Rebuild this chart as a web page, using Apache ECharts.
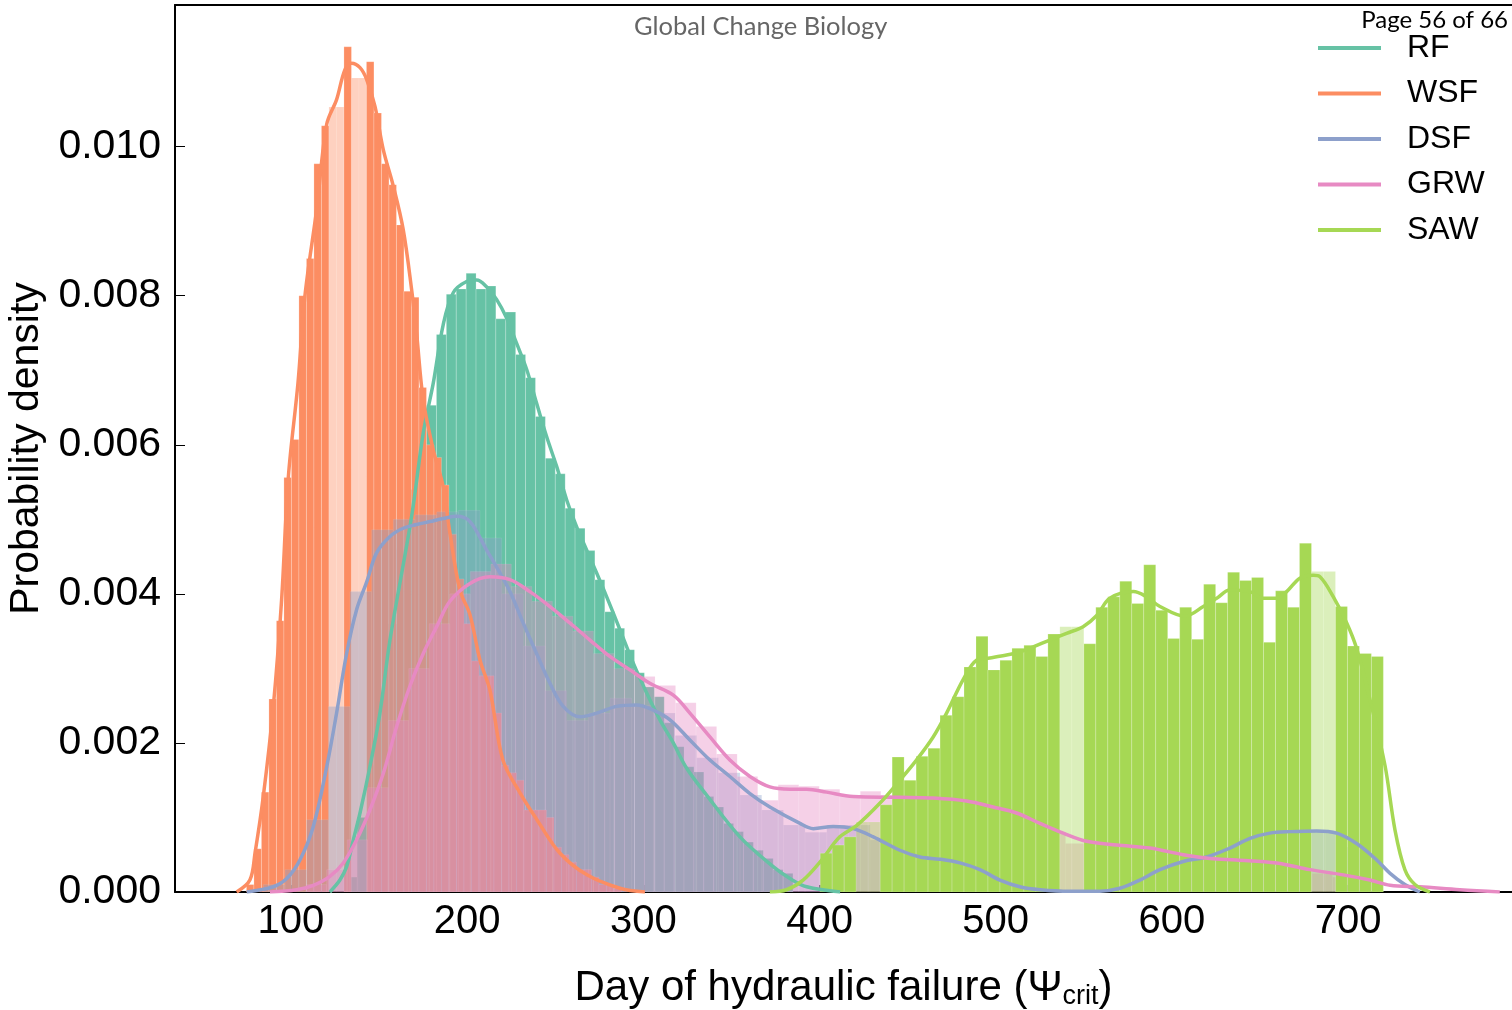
<!DOCTYPE html>
<html>
<head>
<meta charset="utf-8">
<script src="https://cdn.jsdelivr.net/npm/echarts@6/dist/echarts.min.js"></script>
<style>
  html, body { margin: 0; padding: 0; background: #fff; }
  #container { width: 1512px; height: 1010px; }
</style>
</head>
<body>
<div id="container"></div>
<script>
var names = ['RF', 'WSF', 'DSF', 'GRW', 'SAW'];
var colors = ['#66c2a5', '#fc8d62', '#8da0cb', '#e78ac3', '#a6d854'];
var xTicks = [100, 200, 300, 400, 500, 600, 700];
var yTicks = [0, 0.002, 0.004, 0.006, 0.008, 0.010];

// histogram bins: first edge, bin width, density per bin
var rfStart = 132.0, rfWidth = 5.62;
var rfHeights = [0.0002, 0.001, 0.0017, 0.0026, 0.0036, 0.0046, 0.0054, 0.0062,
  0.00653, 0.00748, 0.00802, 0.00809, 0.0083, 0.00809, 0.00813, 0.00769, 0.00778,
  0.00721, 0.0069, 0.00638, 0.00582, 0.00561, 0.00515, 0.00488, 0.00458, 0.00419,
  0.00376, 0.00354, 0.00325, 0.00294, 0.00275, 0.00262, 0.00227, 0.00195, 0.00168,
  0.00161, 0.00128, 0.00114, 0.00092, 0.00081, 0.00067, 0.00056, 0.00045, 0.0003, 0.00025];
var rfPale = [];

var wsfStart = 74.74, wsfWidth = 4.257;
var wsfHeights = [0.0001, 0.00058, 0.00134, 0.00259, 0.00364, 0.00556, 0.00607, 0.0080,
  0.0085, 0.00977, 0.01028, 0.01053, 0.01053, 0.01134, 0.01092, 0.01092, 0.01114,
  0.01045, 0.00977, 0.00949, 0.00895, 0.00806, 0.00798, 0.00677, 0.0060, 0.00583,
  0.00546, 0.0048, 0.0042, 0.0036, 0.0031, 0.0029, 0.0029, 0.0024, 0.0017, 0.0016,
  0.0015, 0.0011, 0.0011, 0.0011, 0.001, 0.0006, 0.0005, 0.0004, 0.0003, 0.0003,
  0.0002, 0.0001, 0.0001, 0.00005];
var wsfPale = [11, 12, 14, 15];

var dsfStart = 84.3, dsfWidth = 12.3;
var dsfHeights = [0.0001, 0.0003, 0.00097, 0.00249, 0.00403, 0.00486, 0.005, 0.00506,
  0.0051, 0.00512, 0.00475, 0.0040, 0.0033, 0.0027, 0.0023, 0.0024, 0.0026, 0.0025,
  0.0024, 0.0021, 0.0018, 0.0016, 0.0013, 0.0011, 0.0009, 0.0008, 0.0009, 0.0009,
  0.0007, 0.0006, 0.0005, 0.00045, 0.0004, 0.0003, 0.00015, 0.00005, 0.00002, 0,
  0.00002, 0.00008, 0.0002, 0.0003, 0.0004, 0.00048, 0.0006, 0.00072, 0.0008,
  0.00082, 0.00082, 0.0008, 0.0006];
var dsfPale = [];

var grwStart = 108.6, grwWidth = 11.65;
var grwHeights = [0.0001, 0.0003, 0.0007, 0.0014, 0.0023, 0.0030, 0.0036, 0.0040,
  0.0043, 0.0044, 0.0041, 0.0039, 0.0037, 0.0035, 0.0032, 0.0030, 0.00289, 0.00277,
  0.00254, 0.00222, 0.00185, 0.00155, 0.00123, 0.00144, 0.00142, 0.00138, 0.0013,
  0.00135, 0.0013, 0.0012, 0.0013, 0.0012, 0.0012, 0.0011, 0.0011, 0.0009, 0.0008,
  0.00065, 0.0006, 0.0006, 0.0006, 0.0005, 0.0005, 0.00045, 0.00045, 0.0004, 0.0004,
  0.00035, 0.0003, 0.00025, 0.0002, 0.00015];
var grwPale = [];

var sawStart = 400.4, sawWidth = 6.8;
var sawHeights = [0.00052, 0.00063, 0.00074, 0.00094, 0.00094, 0.00117, 0.00181, 0.0015,
  0.00182, 0.00193, 0.00237, 0.00262, 0.00302, 0.00343, 0.00298, 0.00311, 0.00327,
  0.00331, 0.00316, 0.00346, 0.00356, 0.00356, 0.00333, 0.00382, 0.00396, 0.00417,
  0.00387, 0.00439, 0.00378, 0.0034, 0.00382, 0.00339, 0.00413, 0.00388, 0.00429,
  0.00418, 0.00422, 0.00335, 0.00404, 0.00382, 0.00468, 0.0043, 0.0043, 0.00383,
  0.0033, 0.0032, 0.00316];
var sawPale = [3, 4, 20, 21, 41, 42];

// kernel density curves [day, density]
var rfKde = [[122.1, 0], [127.8, 0.00016], [131.6, 0.00034], [135.4, 0.0007], [139.2, 0.00106],
  [144.8, 0.00168], [150.5, 0.0024], [156.2, 0.00338], [168.5, 0.00504], [175.1, 0.00616],
  [180.8, 0.00683], [186.4, 0.00761], [192.1, 0.00804], [199.7, 0.00819], [205.4, 0.00821],
  [211.0, 0.00812], [216.7, 0.00795], [222.4, 0.0077], [228.1, 0.00736], [233.8, 0.00701],
  [239.4, 0.00656], [245.1, 0.00611], [250.8, 0.00571], [256.5, 0.00526], [262.1, 0.0049],
  [267.8, 0.00459], [273.5, 0.00428], [279.2, 0.00396], [286.7, 0.00352], [294.3, 0.00307],
  [301.9, 0.00267], [309.4, 0.00231], [317.0, 0.002], [324.6, 0.00166], [335.9, 0.0013],
  [354.8, 0.00074], [373.7, 0.00034], [383.2, 0.00018], [392.7, 0.00007], [411.7, 0]];

var wsfKde = [[69.2, 0], [76.7, 0.00016], [79.6, 0.00052], [84.3, 0.00128], [90.0, 0.00249],
  [94.7, 0.00392], [98.5, 0.00556], [104.0, 0.00683], [107.9, 0.00799], [114.6, 0.00916],
  [120.3, 0.0103], [125.9, 0.01063], [130.6, 0.01103], [134.4, 0.01112], [139.2, 0.01106],
  [143.0, 0.0109], [147.7, 0.01054], [152.4, 0.00996], [158.1, 0.00947], [163.7, 0.00889],
  [168.5, 0.00808], [171.3, 0.0075], [175.1, 0.0066], [180.8, 0.00593], [186.4, 0.00544],
  [190.2, 0.00482], [195.9, 0.00405], [201.6, 0.00372], [207.3, 0.00311], [212.9, 0.00271],
  [220.3, 0.00177], [230.0, 0.00133], [239.6, 0.00097], [252.7, 0.00052], [268.0, 0.00023],
  [286.7, 0.00005], [300.9, 0]];

var dsfKde = [[74.9, 0], [90.0, 0.00007], [97.6, 0.00018], [105.1, 0.00043], [112.7, 0.00088],
  [120.3, 0.00168], [125.9, 0.0024], [131.6, 0.0032], [137.3, 0.00379], [143.0, 0.00416],
  [148.6, 0.00455], [156.2, 0.00477], [163.7, 0.00488], [171.3, 0.00493], [178.9, 0.00497],
  [186.4, 0.00501], [194.0, 0.00504], [201.6, 0.00497], [211.0, 0.00459], [218.6, 0.00428],
  [224.3, 0.00403], [231.8, 0.00361], [239.4, 0.0032], [247.0, 0.0028], [254.5, 0.00249],
  [264.0, 0.00235], [273.5, 0.0024], [284.8, 0.00249], [296.2, 0.00251], [305.6, 0.00244],
  [315.1, 0.00231], [326.4, 0.00204], [337.8, 0.00177], [349.1, 0.00155], [360.5, 0.00132],
  [371.8, 0.00114], [388.9, 0.00092], [396.4, 0.00085], [407.8, 0.00088], [419.1, 0.00085],
  [430.5, 0.00074], [445.6, 0.00056], [457.0, 0.00047], [468.3, 0.00044], [479.7, 0.00039],
  [491.0, 0.0003], [502.4, 0.00016], [513.7, 0.00007], [525.1, 0.00003], [542.1, 0.00001],
  [559.1, 0.00001], [570.5, 0.00005], [581.8, 0.00016], [593.2, 0.0003], [606.4, 0.00041],
  [619.7, 0.00047], [632.9, 0.00059], [644.3, 0.00072], [655.6, 0.00079], [667.0, 0.00081],
  [682.1, 0.00082], [693.5, 0.00079], [704.8, 0.00065], [716.2, 0.00043], [723.8, 0.00025],
  [732.2, 0.0001], [740.7, 0]];

var grwKde = [[88.1, 0], [103.2, 0.00003], [112.7, 0.00009], [122.1, 0.00021], [129.7, 0.00039],
  [137.3, 0.0007], [144.8, 0.0011], [152.4, 0.00159], [160.0, 0.00222], [167.5, 0.00276],
  [175.1, 0.0032], [182.7, 0.00356], [190.2, 0.0039], [201.6, 0.00414], [212.9, 0.00423],
  [224.3, 0.00419], [235.6, 0.00403], [247.0, 0.00383], [258.3, 0.00361], [269.7, 0.00338],
  [281.0, 0.00316], [292.4, 0.00298], [303.7, 0.0028], [317.0, 0.00264], [326.4, 0.0024],
  [337.8, 0.00208], [349.1, 0.00177], [360.5, 0.00155], [371.8, 0.00141], [383.2, 0.00138],
  [392.7, 0.00138], [404.0, 0.00134], [419.1, 0.00128], [445.6, 0.00127], [464.5, 0.00126],
  [483.4, 0.00122], [498.5, 0.00114], [511.8, 0.00106], [525.1, 0.00092], [538.3, 0.00079],
  [551.6, 0.00068], [568.6, 0.00063], [587.5, 0.00059], [606.4, 0.0005], [621.6, 0.00045],
  [636.7, 0.00043], [659.4, 0.00039], [678.3, 0.0003], [697.2, 0.00023], [712.4, 0.00016],
  [723.8, 0.00009], [740.7, 0.00007], [763.4, 0.00003], [786.1, 0]];

var sawKde = [[371.8, 0], [381.3, 0.00003], [390.7, 0.00016], [400.2, 0.0004], [411.5, 0.00074],
  [421.0, 0.00089], [434.2, 0.00119], [445.6, 0.0015], [455.0, 0.00177], [464.5, 0.00208],
  [472.1, 0.0024], [481.5, 0.00285], [489.1, 0.00311], [496.7, 0.00314], [506.2, 0.00318],
  [513.7, 0.00322], [521.3, 0.00329], [530.7, 0.00338], [540.2, 0.00347], [549.6, 0.00356],
  [557.3, 0.00371], [564.8, 0.00394], [578.1, 0.00403], [585.6, 0.00396], [593.2, 0.00383],
  [607.4, 0.0037], [617.8, 0.00383], [625.4, 0.00394], [632.9, 0.00405], [644.3, 0.00403],
  [651.8, 0.00394], [659.4, 0.00394], [665.1, 0.00403], [672.6, 0.00421], [680.2, 0.00425],
  [684.0, 0.00423], [691.6, 0.00396], [699.2, 0.00361], [704.8, 0.00327], [712.4, 0.00258],
  [720.9, 0.0017], [726.6, 0.00083], [732.2, 0.0003], [737.9, 0.0001], [746.4, 0]];

var hists = [
  [rfStart, rfWidth, rfHeights, rfPale],
  [wsfStart, wsfWidth, wsfHeights, wsfPale],
  [dsfStart, dsfWidth, dsfHeights, dsfPale],
  [grwStart, grwWidth, grwHeights, grwPale],
  [sawStart, sawWidth, sawHeights, sawPale]
];
var kdes = [rfKde, wsfKde, dsfKde, grwKde, sawKde];
var barAlpha = [1, 1, 0.4, 0.4, 1];

var dom = document.getElementById('container');
var myChart = echarts.init(dom);

function binData(h) {
  return h[2].map(function(v, i) {
    var x0 = h[0] + i * h[1];
    return [x0, x0 + h[1], v, h[3].indexOf(i) >= 0 ? 1 : 0];
  });
}

function histSeries(idx) {
  return {
    type: 'custom',
    name: names[idx],
    clip: true,
    z: 1,
    silent: true,
    encode: { x: [0, 1], y: 2 },
    data: binData(hists[idx]),
    renderItem: function(params, api) {
      var p0 = api.coord([api.value(0), api.value(2)]);
      var p1 = api.coord([api.value(1), 0]);
      var alpha = api.value(3) ? 0.4 : barAlpha[idx];
      return {
        type: 'rect',
        shape: { x: p0[0], y: p0[1], width: p1[0] - p0[0], height: p1[1] - p0[1] },
        style: {
          fill: colors[idx],
          opacity: alpha,
          stroke: 'rgba(255,255,255,0.25)',
          lineWidth: 0.8
        }
      };
    }
  };
}

var series = [];
names.forEach(function(n, i) {
  series.push(histSeries(i));
});
names.forEach(function(n, i) {
  series.push({
    type: 'line',
    name: n,
    z: 3,
    smooth: 0.35,
    symbol: 'none',
    silent: true,
    lineStyle: { color: colors[i], width: 3.5 },
    data: kdes[i]
  });
});

var axisFont = 'Liberation Sans, Arial, sans-serif';

option = {
  animation: false,
  grid: { left: 175, right: 0, top: 5, bottom: 118, outerBoundsMode: 'none', containLabel: false },
  legend: {
    orient: 'vertical',
    left: 1318,
    top: 32,
    padding: 0,
    icon: 'rect',
    itemWidth: 63,
    itemHeight: 4,
    itemGap: 13.5,
    selectedMode: false,
    textStyle: {
      fontFamily: axisFont,
      fontSize: 32,
      lineHeight: 32,
      color: '#000',
      padding: [0, 0, 0, 21]
    },
    data: names.map(function(n, i) {
      return { name: n, itemStyle: { color: colors[i] } };
    })
  },
  xAxis: [{
    type: 'value',
    min: 34.2,
    max: 793,
    splitLine: { show: false },
    axisLine: { onZero: false, lineStyle: { color: '#000', width: 2 } },
    axisTick: { inside: true, length: 7, lineStyle: { color: '#000', width: 2 }, customValues: xTicks },
    axisLabel: {
      customValues: xTicks,
      margin: 10,
      color: '#000',
      fontFamily: axisFont,
      fontSize: 40
    },
    name: 'Day of hydraulic failure (Ψ{sub|crit})',
    nameLocation: 'middle',
    nameGap: 74,
    nameMoveOverlap: false,
    nameTextStyle: {
      color: '#000',
      fontFamily: axisFont,
      fontSize: 42,
      lineHeight: 44,
      rich: {
        sub: { fontFamily: axisFont, fontSize: 27, color: '#000', verticalAlign: 'bottom', lineHeight: 27 }
      }
    }
  }, {
    type: 'value',
    position: 'top',
    min: 34.2,
    max: 793,
    splitLine: { show: false },
    axisLine: { show: true, onZero: false, lineStyle: { color: '#000', width: 2 } },
    axisTick: { show: false },
    axisLabel: { show: false }
  }],
  yAxis: {
    type: 'value',
    min: 0,
    max: 0.0119,
    splitLine: { show: false },
    axisLine: { show: true, onZero: false, lineStyle: { color: '#000', width: 2 } },
    axisTick: { show: true, inside: true, length: 10, lineStyle: { color: '#000', width: 1 }, customValues: yTicks },
    axisLabel: {
      customValues: yTicks,
      margin: 14,
      color: '#000',
      fontFamily: axisFont,
      fontSize: 41,
      formatter: function(v) { return v.toFixed(3); }
    },
    name: 'Probability density',
    nameLocation: 'middle',
    nameGap: 128,
    nameMoveOverlap: false,
    nameTextStyle: { color: '#000', fontFamily: axisFont, fontSize: 41 }
  },
  graphic: [{
    type: 'text',
    left: 634,
    top: 14,
    style: { text: 'Global Change Biology', fontFamily: 'Lato, Open Sans, sans-serif', fontSize: 25.5, fill: '#666' }
  }, {
    type: 'text',
    right: 4,
    top: 8,
    style: { text: 'Page 56 of 66', fontFamily: 'Lato, Open Sans, sans-serif', fontSize: 24, fill: '#000' }
  }],
  series: series
};

if (option && typeof option === 'object') {
  myChart.setOption(option, true);
}
</script>
</body>
</html>
